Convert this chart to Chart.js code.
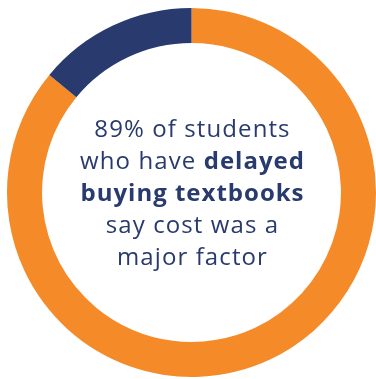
<!DOCTYPE html>
<html>
<head>
<meta charset="utf-8">
<script src="https://cdn.jsdelivr.net/npm/chart.js@4/dist/chart.umd.min.js"></script>
<style>
  html, body { margin: 0; padding: 0; background: #ffffff; overflow: hidden; width: 376px; height: 379px; }
  #wrap { position: absolute; left: 0; top: 0; width: 383px; height: 385px; }
  #chart { display: block; }
  #label {
    position: absolute; left: 42px; top: 112px; width: 301px;
    text-align: center; color: #283a6e;
    font-family: "Open Sans", sans-serif; font-size: 24px; line-height: 32px;
    letter-spacing: 1.1px;
  }
  #label b { font-weight: 700; letter-spacing: 1px; }
</style>
</head>
<body>
<div id="wrap"><canvas id="chart" width="383" height="385"></canvas></div>
<div id="label">89% of students<br>who have <b>delayed</b><br><b>buying textbooks</b><br>say cost was a<br>major factor</div>
<script>
const categories = ["Cost was a major factor", "Other"];
const shares = [86, 14];
const colors = ["#f58a28", "#283a6e"];

new Chart(document.getElementById("chart"), {
  type: "doughnut",
  data: {
    labels: categories,
    datasets: [{ data: shares, backgroundColor: colors, borderWidth: 0, hoverOffset: 0 }]
  },
  options: {
    responsive: false,
    animation: false,
    cutout: "81%",
    rotation: 0,
    layout: { padding: { left: 7, right: 7, top: 8, bottom: 8 } },
    plugins: { legend: { display: false }, tooltip: { enabled: false } },
    events: []
  }
});
</script>
</body>
</html>
